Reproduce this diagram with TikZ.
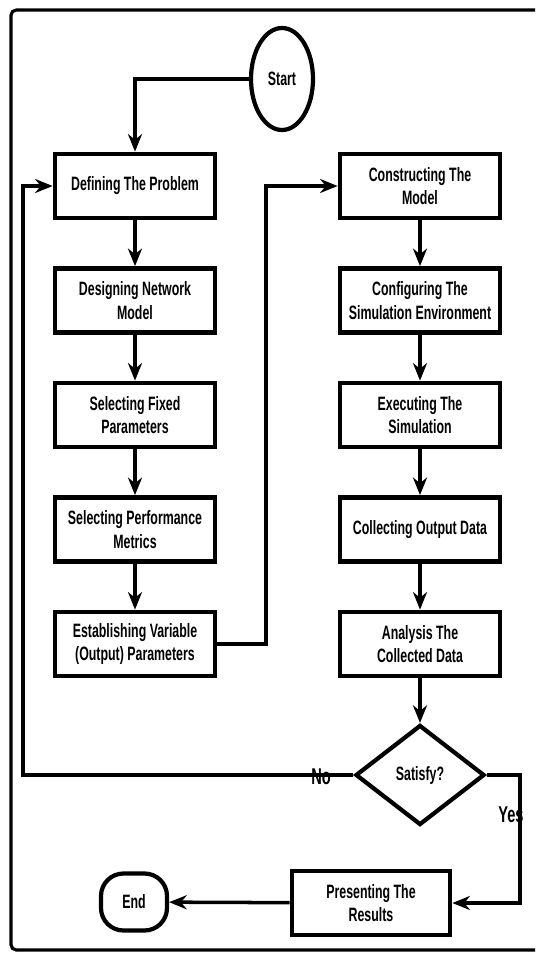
\documentclass[tikz,border=0pt]{standalone}
\usepackage{fontspec}
\setmainfont{Liberation Sans}[FakeStretch=0.64]
\usetikzlibrary{shapes.geometric,arrows.meta}

\begin{document}
\begin{tikzpicture}
        [box/.style={rectangle,draw,line width=2.7pt,minimum width=3.2cm,minimum height=1.28cm,align=center,inner sep=2pt,font=\fontsize{11}{13.4}\selectfont\bfseries},
        startnode/.style={ellipse,draw,line width=2.4pt,minimum width=1.24cm,minimum height=2.04cm,inner sep=0pt,font=\fontsize{11}{13.4}\selectfont\bfseries},
        endnode/.style={rectangle,draw,rounded corners=0.45cm,line width=2.4pt,minimum width=1.32cm,minimum height=1.14cm,font=\fontsize{11}{13.4}\selectfont\bfseries},
        decision/.style={diamond,draw,line width=2.4pt,minimum width=2.58cm,minimum height=2.0cm,inner sep=0pt,font=\fontsize{11}{13.4}\selectfont\bfseries},
        lbl/.style={inner sep=0pt,font=\fontsize{13}{15}\selectfont\bfseries},
        flow/.style={line width=2pt,-{Stealth[length=10pt,width=8pt]}}]
        \useasboundingbox (0,0) rectangle (10.7,-19.08);
        \draw[line width=1.8pt, rounded corners=3pt] (10.7,-0.2) -- (0.22,-0.2) -- (0.22,-19.0) -- (10.7,-19.0);

        \node[startnode] (S) at (5.64,-1.58) {Start};
        % left column
        \node[box] (D1) at (2.70,-3.72) {Defining The Problem};
        \node[box] (D2) at (2.70,-6.01) {Designing Network\\Model};
        \node[box] (D3) at (2.70,-8.30) {Selecting Fixed\\Parameters};
        \node[box] (D4) at (2.70,-10.59) {Selecting Performance\\Metrics};
        \node[box] (D5) at (2.70,-12.88) {Establishing Variable\\(Output) Parameters};
        % right column
        \node[box] (C1) at (8.40,-3.72) {Constructing The\\Model};
        \node[box] (C2) at (8.40,-6.01) {Configuring The\\Simulation Environment};
        \node[box] (C3) at (8.40,-8.30) {Executing The\\Simulation};
        \node[box] (C4) at (8.40,-10.59) {Collecting Output Data};
        \node[box] (C5) at (8.40,-12.88) {Analysis The\\Collected Data};
        \node[decision] (Q) at (8.40,-15.50) {Satisfy?};
        \node[box, minimum width=3.16cm] (P) at (7.42,-18.06) {Presenting The\\Results};
        \node[endnode] (E) at (2.68,-18.04) {End};

        \coordinate (loopR) at (5.32,-12.88);
        \coordinate (loopL) at (0.46,-15.50);
        \coordinate (loopY) at (10.40,-15.50);

        \draw[flow] (S.west) -| (D1.north);
        \draw[flow] (D1) -- (D2);
        \draw[flow] (D2) -- (D3);
        \draw[flow] (D3) -- (D4);
        \draw[flow] (D4) -- (D5);
        \draw[flow] (D5.east) -- (loopR) |- (C1.west);
        \draw[flow] (C1) -- (C2);
        \draw[flow] (C2) -- (C3);
        \draw[flow] (C3) -- (C4);
        \draw[flow] (C4) -- (C5);
        \draw[flow] (C5) -- (Q);
        \draw[flow] (Q.west) -- (loopL) |- (D1.west);
        \draw[flow] (Q.east) -- (loopY) |- (P.east);
        \draw[flow] (P) -- (E);

        \node[lbl] (no) at (6.42,-15.54) {No};
        \node[lbl] (yes) at (10.22,-16.30) {Yes};
    \end{tikzpicture}
\end{document}
